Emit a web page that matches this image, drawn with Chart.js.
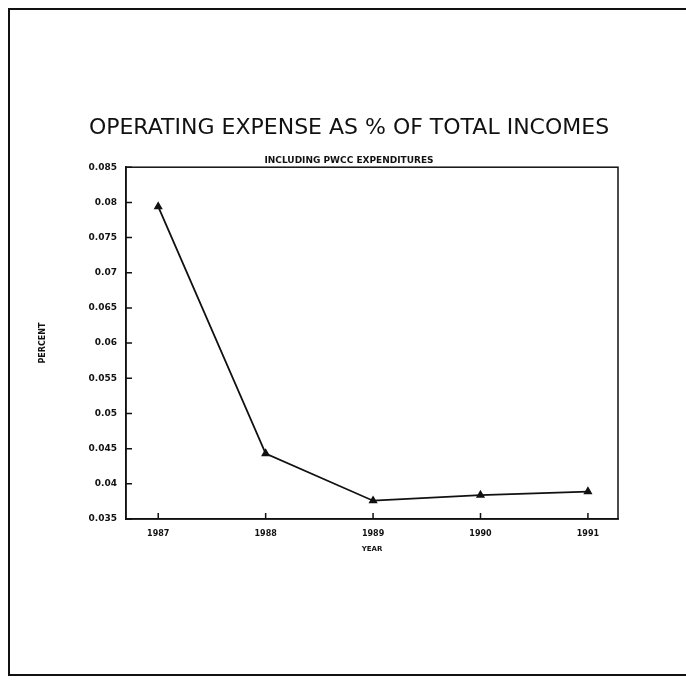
<!DOCTYPE html>
<html>
<head>
<meta charset="utf-8">
<script src="https://cdn.jsdelivr.net/npm/chart.js@4/dist/chart.umd.min.js"></script>
<style>
  body { margin: 0; background: #fff; }
  #wrap { position: relative; width: 686px; height: 682px; overflow: hidden; }
  #frame { position: absolute; left: 8px; top: 8px; width: 700px; height: 664px;
           border-left: 2px solid #111; border-top: 2px solid #111; border-bottom: 2px solid #111; }
  canvas { position: absolute; left: 0; top: 0; }
</style>
</head>
<body>
<div id="wrap">
  <div id="frame"></div>
  <canvas id="expenseChart" width="686" height="682"></canvas>
</div>
<script>
// Data
const years = [1987, 1988, 1989, 1990, 1991];
const expenseRatio = [0.0794, 0.0443, 0.0376, 0.0384, 0.0389];
const yTicks = [0.035, 0.04, 0.045, 0.05, 0.055, 0.06, 0.065, 0.07, 0.075, 0.08, 0.085];
const yTickLabels = ['0.035', '0.04', '0.045', '0.05', '0.055', '0.06', '0.065', '0.07', '0.075', '0.08', '0.085'];

// Plot frame, inward tick marks and the rotated y title
const framePlugin = {
    id: 'framePlugin',
    afterDraw(chart) {
        const ctx = chart.ctx;
        const a = chart.chartArea;
        const x = chart.scales.x, y = chart.scales.y;
        ctx.save();
        ctx.strokeStyle = '#111';
        ctx.lineWidth = 1.5;
        ctx.strokeRect(a.left, a.top, a.right - a.left, a.bottom - a.top);
        ctx.beginPath();
        y.ticks.forEach(t => {
            const py = y.getPixelForValue(t.value);
            ctx.moveTo(a.left, py);
            ctx.lineTo(a.left + 6, py);
        });
        x.ticks.forEach(t => {
            const px = x.getPixelForValue(t.value);
            ctx.moveTo(px, a.bottom);
            ctx.lineTo(px, a.bottom - 6);
        });
        ctx.stroke();
        // y axis title
        ctx.translate(43, (a.top + a.bottom) / 2);
        ctx.rotate(-Math.PI / 2);
        ctx.fillStyle = '#111';
        ctx.font = 'bold 8px "DejaVu Sans"';
        ctx.textAlign = 'center';
        ctx.textBaseline = 'middle';
        ctx.fillText('PERCENT', 0, 0);
        ctx.restore();
    }
};

const ctx = document.getElementById('expenseChart').getContext('2d');
const chart = new Chart(ctx, {
    type: 'line',
    data: {
        datasets: [{
            label: 'Operating expense',
            data: years.map((yr, i) => ({ x: yr, y: expenseRatio[i] })),
            borderColor: '#111',
            backgroundColor: '#111',
            borderWidth: 1.8,
            pointStyle: 'triangle',
            pointRadius: 3.5,
            tension: 0
        }]
    },
    options: {
        responsive: false,
        animation: false,
        layout: { padding: { left: 80, right: 68, top: 115, bottom: 123 } },
        plugins: {
            legend: { display: false },
            tooltip: { enabled: false },
            title: {
                display: true,
                text: 'OPERATING EXPENSE AS % OF TOTAL INCOMES',
                color: '#111',
                font: { family: 'DejaVu Sans', size: 22, weight: 'normal' },
                padding: { top: 0, bottom: 14 }
            },
            subtitle: {
                display: true,
                text: 'INCLUDING PWCC EXPENDITURES',
                color: '#111',
                font: { family: 'DejaVu Sans', size: 9, weight: 'bold' },
                padding: { top: 0, bottom: 1 }
            }
        },
        scales: {
            x: {
                type: 'linear',
                min: 1986.7,
                max: 1991.28,
                afterBuildTicks: axis => { axis.ticks = years.map(v => ({ value: v })); },
                afterFit: s => { s.height = 40; },
                grid: { display: false, drawTicks: false },
                border: { color: '#111', width: 1.5 },
                ticks: {
                    color: '#111',
                    font: { family: 'DejaVu Sans', size: 8, weight: 'bold' },
                    padding: 10,
                    maxRotation: 0,
                    callback: v => String(v)
                },
                title: {
                    display: true,
                    text: 'YEAR',
                    color: '#111',
                    font: { family: 'DejaVu Sans', size: 7, weight: 'bold' },
                    padding: { top: 0, bottom: 6 }
                }
            },
            y: {
                min: 0.035,
                max: 0.085,
                afterBuildTicks: axis => { axis.ticks = yTicks.map(v => ({ value: v })); },
                afterFit: s => { s.width = 46; },
                grid: { display: false, drawTicks: false },
                border: { color: '#111', width: 1.5 },
                ticks: {
                    color: '#111',
                    font: { family: 'DejaVu Sans', size: 9, weight: 'bold' },
                    padding: 9,
                    callback: v => yTickLabels[yTicks.findIndex(t => Math.abs(t - v) < 1e-9)]
                }
            }
        }
    },
    plugins: [framePlugin]
});
</script>
</body>
</html>
